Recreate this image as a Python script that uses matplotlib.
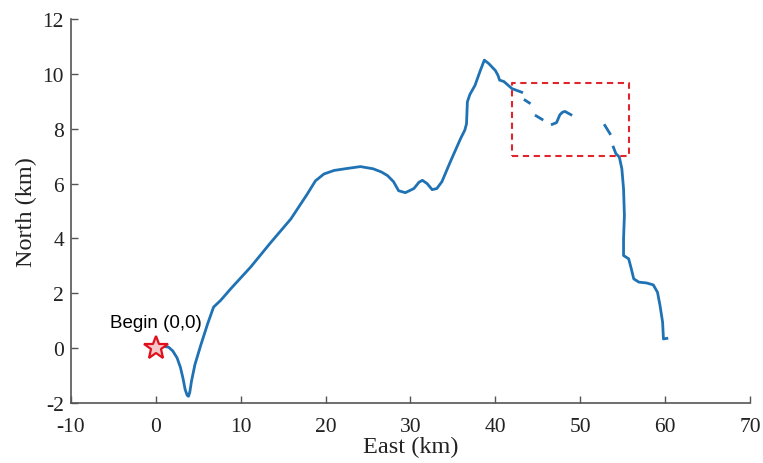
import numpy as np
import matplotlib.pyplot as plt

plt.rcParams['axes.unicode_minus'] = False

# trajectory (km), nan = gap in the track
east = [1.06, 1.5, 2.0, 2.5, 2.9, 3.2, 3.45, 3.7, 3.85, 4.0, 4.2, 4.6, 5.3, 6.1, 6.8, 7.65,
        8.8, 11.2, 13.5, 15.9, 17.8, 18.8, 19.8, 21.0, 22.5, 24.1, 25.6, 26.6, 27.3, 28.0,
        28.6, 29.4, 30.4, 31.0, 31.4, 31.96, 32.55, 33.1, 33.7, 34.7, 35.9, 36.4, 36.6, 36.7,
        37.0, 37.6, 38.2, 38.7, 39.2, 40.0, 40.3, 40.5, 41.0, 41.96, 43.1,
        np.nan, 43.5, 44.0,
        np.nan, 44.8, 45.5,
        np.nan, 46.7, 47.2, 47.6, 47.9, 48.2, 48.9,
        np.nan, 52.9, 53.5,
        np.nan, 53.9, 54.2, 54.6, 54.9, 55.1, 55.2, 55.1, 55.1, 55.7, 55.96, 56.3, 56.9, 57.8,
        58.6, 59.1, 59.4, 59.7, 59.8, 60.2]
north = [0.06, 0.04, -0.1, -0.35, -0.7, -1.1, -1.5, -1.72, -1.75, -1.6, -1.2, -0.6, 0.12,
         0.89, 1.5, 1.75, 2.16, 2.97, 3.84, 4.71, 5.6, 6.1, 6.35, 6.48, 6.55, 6.62, 6.54, 6.42,
         6.29, 6.07, 5.74, 5.67, 5.82, 6.05, 6.12, 6.0, 5.78, 5.82, 6.07, 6.8, 7.64, 7.95, 8.18,
         8.98, 9.25, 9.58, 10.1, 10.5, 10.38, 10.12, 9.95, 9.77, 9.72, 9.46, 9.33,
         np.nan, 9.04, 8.94,
         np.nan, 8.47, 8.34,
         np.nan, 8.16, 8.22, 8.51, 8.6, 8.63, 8.51,
         np.nan, 8.12, 7.82,
         np.nan, 7.33, 7.09, 6.97, 6.54, 5.81, 4.84, 3.99, 3.38, 3.26, 2.96, 2.53, 2.41, 2.38,
         2.31, 2.04, 1.55, 0.95, 0.34, 0.36]

box_x = [42.0, 55.7, 55.7, 42.0, 42.0]
box_y = [7.0, 7.0, 9.68, 9.68, 7.0]

fig = plt.figure(figsize=(7.63, 4.64), dpi=100)
ax = fig.add_axes([0.093, 0.129, 0.89, 0.828])

ax.plot(east, north, color='#1f72b4', linewidth=2)
ax.plot(box_x, box_y, color='#e0262c', linestyle=(0, (3, 2.2)), linewidth=1.5)
ax.plot([0], [0], marker='*', markersize=18, markerfacecolor='#f4c8c8',
        markeredgecolor='#e0101c', markeredgewidth=1.6, linestyle='none')
ax.text(0, 0.62, 'Begin (0,0)', fontsize=13.5, family='Liberation Sans', ha='center', va='bottom')

ax.set_xlim(-10, 70)
ax.set_ylim(-2, 12)
ax.set_xticks(range(-10, 71, 10))
ax.set_yticks(range(-2, 13, 2))

for s in ['top', 'right']:
    ax.spines[s].set_visible(False)
for s in ['left', 'bottom']:
    ax.spines[s].set_color('#555555')
    ax.spines[s].set_linewidth(1.2)
ax.tick_params(direction='in', length=5, width=1.0, color='#555555', labelsize=15.5, pad=5)
ax.tick_params(axis='x', pad=10)
for lab in ax.get_xticklabels() + ax.get_yticklabels():
    lab.set_family('Liberation Serif')
    lab.set_color('#222222')

ax.set_xlabel('East (km)', fontsize=17.5, family='Liberation Serif', labelpad=0, color='#222222')
ax.set_ylabel('North (km)', fontsize=17.5, family='Liberation Serif', labelpad=4, color='#222222')

fig.savefig('out.png', dpi=100)
